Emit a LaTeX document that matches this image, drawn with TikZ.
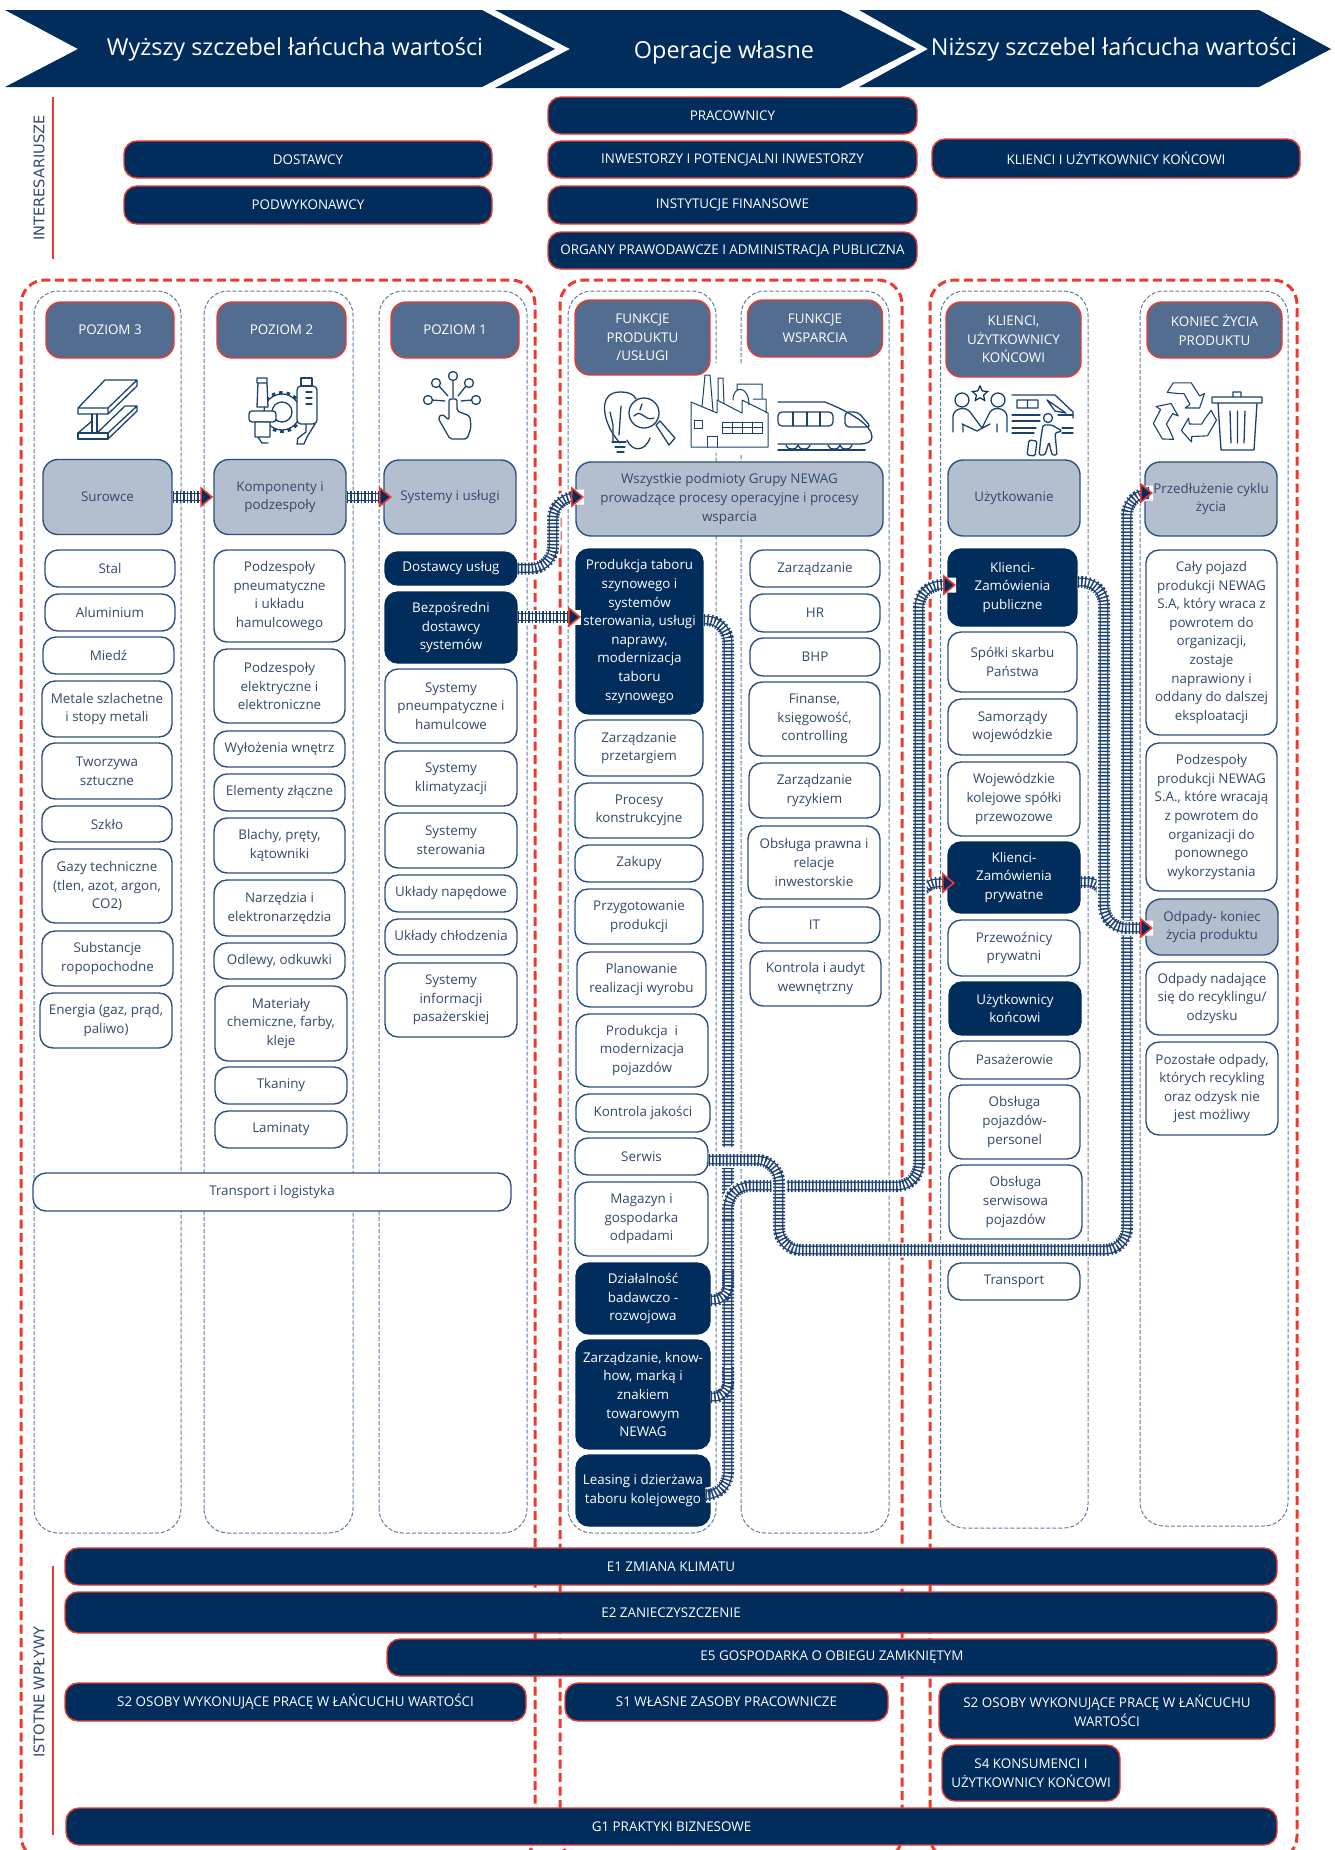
\documentclass[tikz,border=0pt]{standalone}
\usepackage{fontspec}
\setmainfont{Open Sans}
\newfontfamily\widefont{DejaVu Sans}
\usetikzlibrary{arrows.meta,shapes.geometric}
\definecolor{navy}{HTML}{012D5C}
\definecolor{railblue}{HTML}{1F4272}
\definecolor{steel}{HTML}{536D90}
\definecolor{mist}{HTML}{B3BFCF}
\definecolor{boxline}{HTML}{2B5080}
\definecolor{boxtext}{HTML}{33496B}
\definecolor{colline}{HTML}{5F7A9E}
\definecolor{redline}{HTML}{EE3A2E}
\tikzset{
  wh/.style 2 args={minimum width=#1,minimum height=#2},
  lightbox/.style={draw=boxline,fill=white,text=boxtext,rounded corners=13pt,line width=1.4pt},
  darkbox/.style={draw=navy,fill=navy,text=white,rounded corners=13pt,line width=1.4pt},
  greybox/.style={draw=boxline,fill=mist,text=boxtext,rounded corners=15pt,line width=1.4pt},
  headbox/.style={draw=redline,fill=steel,text=white,rounded corners=15pt,line width=1.4pt},
  barbox/.style={draw=redline,fill=navy,text=white,rounded corners=13pt,line width=1.4pt},
  banner/.style={fill=navy,draw=none},
  bannertext/.style={text=white,font=\fontsize{23.4}{28}\selectfont},
  sidetext/.style={text=boxtext,rotate=90,font=\widefont\fontsize{14.6}{17}\selectfont},
  sideline/.style={draw=redline,line width=2.6pt},
  groupline/.style={draw=redline,line width=3pt,dash pattern=on 9pt off 4.5pt,rounded corners=24pt},
  colframe/.style={draw=colline,line width=1pt,dash pattern=on 4pt off 2pt,rounded corners=24pt},
  rail/.style={draw=railblue,line width=12pt,dash pattern=on 1.5pt off 2pt,
    preaction={arrows=-,draw=railblue,solid,line width=8.8pt,shorten >=#1},
    preaction={arrows=-,draw=white,solid,line width=6.2pt,shorten >=#1}},
  rail/.default=0pt,
  railcut/.style={preaction={arrows=-,draw=white,solid,line width=15pt}},
  headed/.style={-{Triangle[length=13pt,width=21pt,line width=1.6pt,fill=navy,color=redline]}},
  icon/.style={draw=navy!90,line width=1.3pt,line join=round,line cap=round},
}
\begin{document}
\begin{tikzpicture}
      [x=1pt,y=-1pt,every node/.style={align=center,inner sep=0pt,font=\fontsize{13.4}{18.6}\selectfont}]
      \useasboundingbox (0,0) rectangle (1335,1850);

      \fill [banner] (5,10) -- (482,10) -- (555,49) -- (482,87) -- (5,87) -- (78,49) -- cycle;
      \fill [banner] (495,10) -- (840,10) -- (916,49) -- (840,88) -- (495,88) -- (570,49) -- cycle;
      \fill [banner] (859,10) -- (1259,10) -- (1331,49) -- (1259,87) -- (859,87) -- (928,49) -- cycle;
      \node [bannertext] (upper) at (295,49.5) {Wyższy szczebel łańcucha wartości};
      \node [bannertext] (own) at (724,52.5) {Operacje własne};
      \node [bannertext] (lower) at (1114,49.5) {Niższy szczebel łańcucha wartości};

      \node [sidetext] (stake) at (39,178) {INTERESARIUSZE};
      \coordinate (stakea) at (53,97);
      \coordinate (stakeb) at (53,259);
      \draw [sideline] (stakea) -- (stakeb);
      \node [sidetext] (impact) at (39,1692) {ISTOTNE WPŁYWY};
      \coordinate (impacta) at (53,1566);
      \coordinate (impactb) at (53,1835);
      \draw [sideline] (impacta) -- (impactb);

      \node [barbox,wh={368pt}{37pt}] (dost) at (308,159.5) {DOSTAWCY};
      \node [barbox,wh={368pt}{38pt}] (podw) at (308,205) {PODWYKONAWCY};
      \node [barbox,wh={369pt}{37pt}] (prac) at (732.5,115.5) {PRACOWNICY};
      \node [barbox,wh={369pt}{37pt}] (inw) at (732.5,159.5) {INWESTORZY I POTENCJALNI INWESTORZY};
      \node [barbox,wh={369pt}{38pt}] (inst) at (732.5,205) {INSTYTUCJE FINANSOWE};
      \node [barbox,wh={369pt}{37pt}] (org) at (732.5,250.5) {ORGANY PRAWODAWCZE I ADMINISTRACJA PUBLICZNA};
      \node [barbox,wh={368pt}{39pt}] (klu) at (1116,158.5) {KLIENCI I UŻYTKOWNICY KOŃCOWI};

      \draw [groupline] (21,1860) rectangle (535,280);
      \draw [groupline] (560,1860) rectangle (902,280);
      \draw [groupline] (930,1860) rectangle (1297,280);

      \draw [colframe] (34,1533) rectangle (181,291);
      \draw [colframe] (204,1533) rectangle (353,291);
      \draw [colframe] (379,1533) rectangle (527,291);
      \draw [colframe] (568,1533) rectangle (716,291);
      \draw [colframe] (741,1533) rectangle (889,291);
      \draw [colframe] (940.5,1528) rectangle (1088,291);
      \draw [colframe] (1140,1526) rectangle (1288,291);
      \fill [white] (700,363) rectangle (760,453);

      \node [headbox,wh={128pt}{56pt}] (poz3) at (110,330) {POZIOM 3};
      \node [headbox,wh={129pt}{56pt}] (poz2) at (281.5,330) {POZIOM 2};
      \node [headbox,wh={128pt}{56pt}] (poz1) at (455,330) {POZIOM 1};
      \node [headbox,wh={135pt}{75pt}] (funp) at (642.5,337.5) {FUNKCJE\\PRODUKTU\\/USŁUGI};
      \node [headbox,wh={135pt}{57pt}] (funw) at (815,328.5) {FUNKCJE\\WSPARCIA};
      \node [headbox,wh={135pt}{75pt}] (klih) at (1013.5,339.5) {KLIENCI,\\UŻYTKOWNICY\\KOŃCOWI};
      \node [headbox,wh={135pt}{56pt}] (konh) at (1214.5,330) {KONIEC ŻYCIA\\PRODUKTU};

      \node [greybox,wh={129pt}{75pt}] (suro) at (107.5,497) {Surowce};
      \node [greybox,wh={132pt}{75pt}] (komp) at (280,497) {Komponenty i\\podzespoły};
      \node [greybox,wh={132pt}{74pt}] (sys) at (450,497) {Systemy i usługi};
      \node [greybox,wh={307pt}{74pt}] (wsz) at (729.5,499) {Wszystkie podmioty Grupy NEWAG\\prowadzące procesy operacyjne i procesy\\wsparcia};
      \node [greybox,wh={132pt}{76pt}] (uzy) at (1014,498) {Użytkowanie};
      \node [greybox,wh={132pt}{74pt}] (prze) at (1211,499) {Przedłużenie cyklu\\życia};

      \node [lightbox,wh={130pt}{37pt}] (stal) at (110,568.5) {Stal};
      \node [lightbox,wh={130pt}{37pt}] (alu) at (110,612.5) {Aluminium};
      \node [lightbox,wh={131pt}{37pt}] (miedz) at (108.5,655.5) {Miedź};
      \node [lightbox,wh={130pt}{56pt}] (metale) at (107,709) {Metale szlachetne\\i stopy metali};
      \node [lightbox,wh={130pt}{56pt}] (tworz) at (107,771) {Tworzywa\\sztuczne};
      \node [lightbox,wh={130pt}{36pt}] (szklo) at (107,824) {Szkło};
      \node [lightbox,wh={130pt}{74pt}] (gazy) at (107,886) {Gazy techniczne\\(tlen, azot, argon,\\CO2)};
      \node [lightbox,wh={131pt}{55pt}] (subst) at (107.5,958.5) {Substancje\\ropopochodne};
      \node [lightbox,wh={132pt}{55pt}] (energ) at (106,1020.5) {Energia (gaz, prąd,\\paliwo)};

      \node [lightbox,wh={131pt}{92pt}] (ppneu) at (279.5,596) {Podzespoły\\pneumatyczne\\i układu\\hamulcowego};
      \node [lightbox,wh={131pt}{74pt}] (pelek) at (279.5,686) {Podzespoły\\elektryczne i\\elektroniczne};
      \node [lightbox,wh={131pt}{36pt}] (wylo) at (279.5,749) {Wyłożenia wnętrz};
      \node [lightbox,wh={131pt}{37pt}] (elem) at (279.5,792.5) {Elementy złączne};
      \node [lightbox,wh={131pt}{55pt}] (blach) at (279.5,845.5) {Blachy, pręty,\\kątowniki};
      \node [lightbox,wh={131pt}{56pt}] (narz) at (279.5,908) {Narzędzia i\\elektronarzędzia};
      \node [lightbox,wh={131pt}{36pt}] (odlew) at (279.5,961) {Odlewy, odkuwki};
      \node [lightbox,wh={132pt}{75pt}] (mater) at (281,1023.5) {Materiały\\chemiczne, farby,\\kleje};
      \node [lightbox,wh={132pt}{37pt}] (tkan) at (281,1085.5) {Tkaniny};
      \node [lightbox,wh={132pt}{37pt}] (lamin) at (281,1129.5) {Laminaty};

      \node [darkbox,wh={132pt}{33pt}] (uslug) at (451,568.5) {Dostawcy usług};
      \node [darkbox,wh={132pt}{71pt}] (bezp) at (451,627.5) {Bezpośredni\\dostawcy\\systemów};
      \node [lightbox,wh={132pt}{74pt}] (spneu) at (451,706) {Systemy\\pneumpatyczne i\\hamulcowe};
      \node [lightbox,wh={132pt}{55pt}] (sklim) at (451,778.5) {Systemy\\klimatyzacji};
      \node [lightbox,wh={132pt}{55pt}] (sster) at (451,840.5) {Systemy\\sterowania};
      \node [lightbox,wh={132pt}{37pt}] (unap) at (451,893.5) {Układy napędowe};
      \node [lightbox,wh={132pt}{36pt}] (uchl) at (451,937) {Układy chłodzenia};
      \node [lightbox,wh={132pt}{74pt}] (sinf) at (451,1000) {Systemy\\informacji\\pasażerskiej};

      \node [lightbox,wh={478pt}{38pt}] (logi) at (272,1192) {Transport i logistyka};

      \node [darkbox,wh={127pt}{165pt}] (prod) at (639.5,631.5) {Produkcja taboru\\szynowego i\\systemów\\sterowania, usługi\\naprawy,\\modernizacja\\taboru\\szynowego};
      \node [lightbox,wh={128pt}{56pt}] (przet) at (639,748) {Zarządzanie\\przetargiem};
      \node [lightbox,wh={128pt}{55pt}] (proc) at (639,810.5) {Procesy\\konstrukcyjne};
      \node [lightbox,wh={128pt}{37pt}] (zak) at (639,863.5) {Zakupy};
      \node [lightbox,wh={128pt}{55pt}] (przyg) at (639,916.5) {Przygotowanie\\produkcji};
      \node [lightbox,wh={129pt}{55pt}] (plan) at (641.5,979.5) {Planowanie\\realizacji wyrobu};
      \node [lightbox,wh={132pt}{73pt}] (modern) at (642,1050.5) {Produkcja~~i\\modernizacja\\pojazdów};
      \node [lightbox,wh={134pt}{38pt}] (jakos) at (643,1113) {Kontrola jakości};
      \node [lightbox,wh={133pt}{37pt}] (serwis) at (641.5,1156.5) {Serwis};
      \node [lightbox,wh={133pt}{74pt}] (magaz) at (641.5,1219) {Magazyn i\\gospodarka\\odpadami};
      \node [darkbox,wh={134pt}{71pt}] (dzial) at (643,1298.5) {Działalność\\badawczo -\\rozwojowa};
      \node [darkbox,wh={134pt}{109pt}] (know) at (643,1394.5) {Zarządzanie, know-\\how, marką i\\znakiem\\towarowym\\NEWAG};
      \node [darkbox,wh={134pt}{71pt}] (leas) at (643,1490.5) {Leasing i dzierżawa\\taboru kolejowego};

      \node [lightbox,wh={130pt}{37pt}] (zarz) at (815,568.5) {Zarządzanie};
      \node [lightbox,wh={130pt}{38pt}] (hr) at (815,613) {HR};
      \node [lightbox,wh={130pt}{38pt}] (bhp) at (815,657) {BHP};
      \node [lightbox,wh={131pt}{74pt}] (finan) at (814.5,719) {Finanse,\\księgowość,\\controlling};
      \node [lightbox,wh={131pt}{55pt}] (ryzyk) at (814.5,790.5) {Zarządzanie\\ryzykiem};
      \node [lightbox,wh={132pt}{73pt}] (prawo) at (814,862.5) {Obsługa prawna i\\relacje\\inwestorskie};
      \node [lightbox,wh={131pt}{36pt}] (it) at (814.5,925) {IT};
      \node [lightbox,wh={131pt}{55pt}] (audyt) at (815.5,978.5) {Kontrola i audyt\\wewnętrzny};

      \node [darkbox,wh={129pt}{77pt}] (publ) at (1012.5,587.5) {Klienci-\\Zamówienia\\publiczne};
      \node [lightbox,wh={129pt}{60pt}] (spolk) at (1012.5,662) {Spółki skarbu\\Państwa};
      \node [lightbox,wh={129pt}{56pt}] (samo) at (1012.5,727) {Samorządy\\wojewódzkie};
      \node [lightbox,wh={132pt}{74pt}] (wojew) at (1014,799) {Wojewódzkie\\kolejowe spółki\\przewozowe};
      \node [darkbox,wh={132pt}{71pt}] (pryw) at (1014,877.5) {Klienci-\\Zamówienia\\prywatne};
      \node [lightbox,wh={132pt}{56pt}] (przew) at (1014,948) {Przewoźnicy\\prywatni};
      \node [darkbox,wh={132pt}{53pt}] (koncw) at (1015,1008.5) {Użytkownicy\\końcowi};
      \node [lightbox,wh={131pt}{38pt}] (pasaz) at (1014.5,1060) {Pasażerowie};
      \node [lightbox,wh={131pt}{74pt}] (perso) at (1014.5,1122) {Obsługa\\pojazdów-\\personel};
      \node [lightbox,wh={133pt}{74pt}] (serpo) at (1015.5,1202) {Obsługa\\serwisowa\\pojazdów};
      \node [lightbox,wh={132pt}{37pt}] (trans) at (1014,1281.5) {Transport};

      \node [lightbox,wh={131pt}{185pt}] (caly) at (1211.5,642.5) {Cały pojazd\\produkcji NEWAG\\S.A, który wraca z\\powrotem do\\organizacji,\\zostaje\\naprawiony i\\oddany do dalszej\\eksploatacji};
      \node [lightbox,wh={131pt}{148pt}] (pods) at (1211.5,817) {Podzespoły\\produkcji NEWAG\\S.A., które wracają\\z powrotem do\\organizacji do\\ponownego\\wykorzystania};
      \node [greybox,wh={132pt}{56pt}] (odpad) at (1212,927) {Odpady- koniec\\życia produktu};
      \node [lightbox,wh={132pt}{73pt}] (recyk) at (1212,998.5) {Odpady nadające\\się do recyklingu/\\odzysku};
      \node [lightbox,wh={132pt}{93pt}] (pozos) at (1212,1088.5) {Pozostałe odpady,\\których recykling\\oraz odzysk nie\\jest możliwy};

      \node [barbox,wh={1212pt}{37pt}] (e1) at (671,1566.5) {E1 ZMIANA KLIMATU};
      \node [barbox,wh={1212pt}{41pt}] (e2) at (671,1612.5) {E2 ZANIECZYSZCZENIE};
      \node [barbox,wh={890pt}{37pt}] (e5) at (832,1657.5) {E5 GOSPODARKA O OBIEGU ZAMKNIĘTYM};
      \node [barbox,wh={461pt}{38pt}] (s2a) at (295.5,1702) {S2 OSOBY WYKONUJĄCE PRACĘ W ŁAŃCUCHU WARTOŚCI};
      \node [barbox,wh={323pt}{38pt}] (s1) at (726.5,1702) {S1 WŁASNE ZASOBY PRACOWNICZE};
      \node [barbox,wh={336pt}{56pt}] (s2b) at (1107,1711) {S2 OSOBY WYKONUJĄCE PRACĘ W ŁAŃCUCHU\\WARTOŚCI};
      \node [barbox,wh={178pt}{56pt}] (s4) at (1031,1773) {S4 KONSUMENCI I\\UŻYTKOWNICY KOŃCOWI};
      \node [barbox,wh={1211pt}{37pt}] (g1) at (671.5,1826.5) {G1 PRAKTYKI BIZNESOWE};

      \coordinate (sysin) at (392,497);
      \coordinate (wszin) at (584,497);
      \coordinate (prodin) at (581,617);
      \coordinate (publin) at (956,585);
      \coordinate (prywin) at (955,883);
      \coordinate (odpin) at (1153,928);
      \coordinate (przein) at (1153,493);

      \draw [rail=12pt,headed] (suro.east) -- (komp.west);
      \draw [rail=12pt,headed] (komp.east) -- (sysin);
      \draw [railcut,rail=12pt,headed,rounded corners=22pt] (uslug.east) -- (553,568.5) -- (553,497) -- (wszin);
      \draw [railcut,rail=12pt,headed] (bezp.east |- prodin) -- (prodin);

      \draw [railcut,rail,rounded corners=22pt] (prod.east |- 0,620) -- (728,620) -- (728,1147);
      \draw [railcut,rail,rounded corners=22pt] (leas.east |- 0,1495) -- (728,1495) -- (728,1168);
      \draw [rail,rounded corners=14pt] (dzial.east |- 0,1300) -- (728,1300) -- (728,1270);
      \draw [rail,rounded corners=14pt] (know.east |- 0,1397) -- (728,1397) -- (728,1367);
      \draw [rail=12pt,headed,rounded corners=18pt] (919,920) -- (919,883) -- (prywin);
      \draw [railcut,rail=12pt,headed,rounded corners=22pt] (728,1220) -- (728,1186) -- (919,1186) -- (919,585) -- (publin);
      \draw [railcut,rail=12pt,headed,rounded corners=22pt] (serwis.east |- 0,1160) -- (779,1160) -- (779,1250) -- (1127,1250) -- (1127,493) -- (przein);
      \draw [rail,rounded corners=16pt] (pryw.east |- 0,882) -- (1104,882) -- (1104,915);
      \draw [railcut,rail=12pt,headed,rounded corners=22pt] (publ.east |- 0,582) -- (1104,582) -- (1104,928) -- (odpin);

      % ikony
      \draw [icon] (78,408) -- (105,380) -- (137,380) -- (137,386) -- (108,414) -- (78,414) -- cycle (108,408) -- (137,380) (78,408) -- (108,408) -- (108,414);
      \draw [icon] (92,414) -- (92,433) (97,414) -- (97,433) (78,433) -- (108,433) -- (108,439) -- (78,439) -- cycle;
      \draw [icon] (108,433) -- (137,406) -- (137,411) -- (108,439) (78,433) -- (92,421) (97,433) -- (125,406) -- (137,406);

      \draw [icon] (282,412) circle (18pt) (282,412) circle (10pt);
      \draw [icon,line width=3pt,line cap=butt,dash pattern=on 3.5pt off 4pt] (282,412) circle (19.5pt);
      \draw [icon,fill=white] (257,378) rectangle (267,383) (258,383) -- (257,407) -- (268,407) -- (267,383);
      \draw [icon,fill=white,rounded corners=3pt] (249,411) rectangle (276,422);
      \draw [icon,fill=white] (255,422) rectangle (270,437) (258,437) -- (262,443) -- (268,443);
      \draw [icon,fill=white,rounded corners=4pt] (297,386) rectangle (317,424);
      \draw [icon] (301,378) rectangle (312,386) (306,392) -- (312,392) (306,398) -- (312,398) (306,404) -- (312,404);
      \draw [icon] (306,424) -- (306,432) -- (298,438) -- (297,444) -- (304,444) -- (307,437) -- (315,424);

      \draw [icon] (453,398) -- (453,380) (448,396) -- (439,386) (458,396) -- (466,386) (445,401) -- (432,400) (461,401) -- (472,400);
      \foreach \px/\py/\pname in {453/376/a,436/383/b,469/383/c,428/400/d,476/400/e}
        \draw [icon,fill=white] (\px,\py) circle (4.5pt);
      \draw [icon,fill=white,rounded corners=2pt] (449,420) -- (449,399) -- (457,399) -- (457,411) -- (470,416) -- (471,428) -- (467,439) -- (450,439) -- (438,418) -- (442,414) -- cycle;

      \draw [icon] (620,443) .. controls (603,425) and (596,392) .. (620,392) .. controls (630,392) and (634,395) .. (636,399);
      \draw [icon] (613,441) -- (613,425) -- (610,412) (619,435) -- (621,406) (627,440) .. controls (632,452) and (645,452) .. (650,438);
      \draw [icon] (612,442) -- (626,442) (615,447) -- (625,447) (617,452) -- (624,452);
      \draw [icon,fill=white] (644,413) circle (15pt);
      \draw [icon] (640,410) -- (642,404) (634,416) .. controls (642,408) and (644,422) .. (654,418);
      \draw [icon,fill=white] (656,425) -- (660,421) -- (675,438) -- (669,445) -- cycle;

      \draw [icon,line width=1pt] (691,402) -- (691,447) -- (768,447) -- (768,413) -- (742,400) -- (742,413) -- (717,400) -- (717,413) -- cycle;
      \draw [icon,line width=1pt] (702,407) -- (705,375) -- (710,375) -- (713,411) (718,400) -- (718,378) -- (723,378) -- (724,404);
      \draw [icon,line width=1pt] (733,400) .. controls (733,385) and (749,385) .. (749,405) (737,390) -- (737,384) -- (762,384) -- (762,398) (753,399) -- (766,399) -- (766,413);
      \draw [icon,line width=1pt] (722,422) rectangle (762,433) (722,427.5) -- (762,427.5) (732,422) -- (732,433) (742,422) -- (742,433) (752,422) -- (752,433);
      \draw [icon,line width=1pt] (694,420) rectangle (702,428) (707,447) -- (707,436) -- (717,436) -- (717,447);

      \draw [icon] (778,402) -- (825,402) .. controls (850,412) and (872,425) .. (872,437) .. controls (872,442) and (866,444) .. (860,444) -- (778,444);
      \draw [icon,rounded corners=4pt] (778,412) rectangle (833,426);
      \draw [icon] (793,412) -- (793,426) (807,412) -- (807,426) (820,412) -- (820,426);
      \draw [icon,rounded corners=4pt] (845,412) -- (858,412) -- (871,427) -- (845,427) -- cycle;
      \draw [icon,line width=1.8pt] (778,450) -- (865,450);
      \draw [icon] (786,445) arc (180:360:6pt and 4pt) (798,445) arc (180:360:6pt and 4pt) (828,445) arc (180:360:6pt and 4pt) (840,445) arc (180:360:6pt and 4pt);

      \node [star,star points=5,star point ratio=2.1,draw=navy,line width=1.2pt,minimum size=16pt] (medal) at (980,394) {};
      \draw [icon] (962,400) circle (7pt) (998,400) circle (7pt);
      \draw [icon] (953,432) -- (953,416) .. controls (954,408) and (966,406) .. (970,412) -- (982,428) (962,424) -- (977,431) -- (990,424) (1007,432) -- (1007,416) .. controls (1006,408) and (994,406) .. (990,412) -- (982,428) (963,432) -- (963,424) (997,432) -- (997,424);
      \draw [icon] (1012,395) -- (1055,395) -- (1073,412) -- (1073,418) (1017,400) rectangle (1038,408) (1027.5,400) -- (1027.5,408) (1047,400) -- (1066,413) (1047,400) -- (1055,411) -- (1066,413);
      \draw [icon] (1012,415) -- (1040,415) (1058,415) -- (1073,415) (1012,421) -- (1040,421) (1012,428) -- (1036,428) (1062,428) -- (1073,428) (1012,433) -- (1034,433) (1062,433) -- (1073,433);
      \draw [icon,fill=white] (1048,418) circle (4.5pt);
      \draw [icon,fill=white,rounded corners=1.5pt] (1043,425) -- (1052,425) -- (1062,431) -- (1055,433) -- (1056,444) -- (1057,455) -- (1052,455) -- (1049,442) -- (1045,455) -- (1039,455) -- (1041,437) -- cycle;
      \draw [icon,fill=white,rounded corners=1.5pt] (1029,440) -- (1037,441) -- (1035,456) -- (1027,455) -- cycle;

      \begin{scope}[shift={(1184,414)},scale=1.2]
        \foreach \turn in {0,120,240}
          \draw [icon,rotate=\turn,line width=1.1pt] (-9,-26) -- (6,-26) -- (13,-15) -- (17,-17) -- (13,-5) -- (1,-5) -- (5,-8) -- (0,-17) -- (-4,-17) -- (-14,-18) -- cycle;
      \end{scope}
      \draw [icon,fill=white] (1212,397) rectangle (1262,403) (1218,403) -- (1221,450) -- (1254,450) -- (1257,403);
      \draw [icon] (1233,397) -- (1233,392) -- (1241,392) -- (1241,397) (1230,411) -- (1231,443) (1237.5,411) -- (1237.5,443) (1245,411) -- (1244,443);
    \end{tikzpicture}
\end{document}
